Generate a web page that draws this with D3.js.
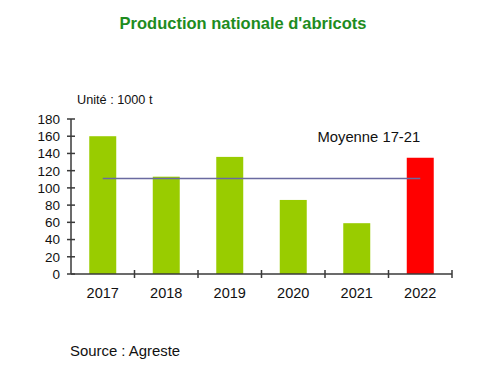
<!DOCTYPE html>
<html>
<head>
<meta charset="utf-8">
<script src="https://d3js.org/d3.v7.min.js"></script>
<style>
body { margin: 0; background: #fff; }
svg { display: block; font-family: Arial, "Liberation Sans", sans-serif; }
</style>
</head>
<body>
<svg></svg>
<script>
// Data (1000 t)
var years = ["2017", "2018", "2019", "2020", "2021", "2022"];
var production = [160, 113, 136, 86, 59, 135];
var barColors = ["#99cc00", "#99cc00", "#99cc00", "#99cc00", "#99cc00", "#ff0000"];
var moyenne = 110.8;   // moyenne 2017-2021
var yTicks = [0, 20, 40, 60, 80, 100, 120, 140, 160, 180];

var width = 494, height = 380;
var svg = d3.select("svg").attr("width", width).attr("height", height);

var x = d3.scaleBand()
  .domain(years)
  .range([71, 452])
  .paddingInner(0.575)
  .paddingOuter(0.2875);

var y = d3.scaleLinear()
  .domain([0, 180])
  .range([274, 119]);

var axisColor = "#3a3a3a";

// title
svg.append("text")
  .attr("x", 243).attr("y", 29)
  .attr("text-anchor", "middle")
  .style("font-size", "16.5px").style("font-weight", "bold")
  .style("fill", "#1e8c1e")
  .text("Production nationale d'abricots");

svg.append("text")
  .attr("x", 77).attr("y", 104)
  .style("font-size", "12.7px").style("fill", "#111")
  .text("Unité : 1000 t");

// bars
svg.selectAll("rect.bar").data(years).enter().append("rect")
  .attr("class", "bar")
  .attr("x", function (d) { return x(d); })
  .attr("width", x.bandwidth())
  .attr("y", function (d, i) { return y(production[i]); })
  .attr("height", function (d, i) { return y(0) - y(production[i]); })
  .style("fill", function (d, i) { return barColors[i]; });

// average line 17-21
var first = years[0], last = years[years.length - 1];
svg.append("line")
  .attr("x1", x(first) + x.bandwidth() / 2)
  .attr("x2", x(last) + x.bandwidth() / 2)
  .attr("y1", y(moyenne)).attr("y2", y(moyenne))
  .style("stroke", "#6a6aa0").style("stroke-width", 1.5);

svg.append("text")
  .attr("x", x(last) + x.bandwidth() / 2).attr("y", 142)
  .attr("text-anchor", "end")
  .style("font-size", "14.8px").style("fill", "#111")
  .text("Moyenne 17-21");

// y axis
svg.append("line")
  .attr("x1", 71).attr("x2", 71)
  .attr("y1", y(180)).attr("y2", y(0))
  .style("stroke", axisColor).style("stroke-width", 1.5);

svg.selectAll("line.ytick").data(yTicks).enter().append("line")
  .attr("class", "ytick")
  .attr("x1", 67).attr("x2", 75)
  .attr("y1", function (d) { return y(d); })
  .attr("y2", function (d) { return y(d); })
  .style("stroke", axisColor).style("stroke-width", 1.5);

svg.selectAll("text.ylab").data(yTicks).enter().append("text")
  .attr("class", "ylab")
  .attr("x", 60)
  .attr("y", function (d) { return y(d); })
  .attr("dy", "0.36em")
  .attr("text-anchor", "end")
  .style("font-size", "13.5px").style("fill", "#111")
  .text(function (d) { return d; });

// x axis
svg.append("line")
  .attr("x1", 71).attr("x2", 452)
  .attr("y1", y(0)).attr("y2", y(0))
  .style("stroke", axisColor).style("stroke-width", 1.5);

var step = x.step();
svg.selectAll("line.xtick").data(years).enter().append("line")
  .attr("class", "xtick")
  .attr("x1", function (d) { return x(d) + x.bandwidth() / 2 + step / 2; })
  .attr("x2", function (d) { return x(d) + x.bandwidth() / 2 + step / 2; })
  .attr("y1", y(0) - 4).attr("y2", y(0) + 4)
  .style("stroke", axisColor).style("stroke-width", 1.5);

svg.selectAll("text.xlab").data(years).enter().append("text")
  .attr("class", "xlab")
  .attr("x", function (d) { return x(d) + x.bandwidth() / 2; })
  .attr("y", 298)
  .attr("text-anchor", "middle")
  .style("font-size", "14.5px").style("fill", "#111")
  .text(function (d) { return d; });

// source
svg.append("text")
  .attr("x", 70).attr("y", 356)
  .style("font-size", "14.9px").style("fill", "#111")
  .text("Source : Agreste");
</script>
</body>
</html>
